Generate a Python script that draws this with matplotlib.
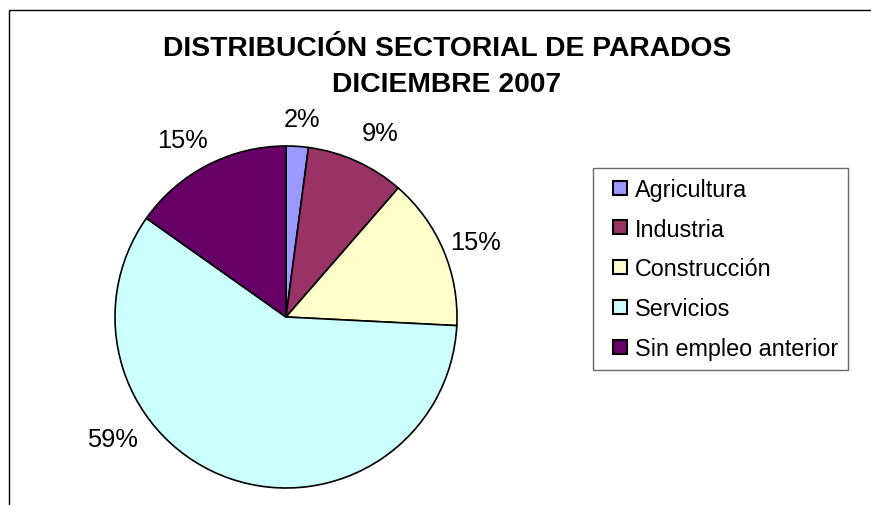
import numpy as np
import matplotlib
matplotlib.use("Agg")
import matplotlib.pyplot as plt
from matplotlib.patches import Rectangle
from matplotlib.legend_handler import HandlerPatch

plt.rcParams['font.family'] = ['Liberation Sans', 'DejaVu Sans']

# data
sectores = ["Agricultura", "Industria", "Construcción", "Servicios", "Sin empleo anterior"]
porcentajes = [2.1, 9.3, 14.4, 59.0, 15.2]
etiquetas = ["2%", "9%", "15%", "59%", "15%"]
colores = ["#9999FF", "#993366", "#FFFFCC", "#CCFFFF", "#660066"]

# label placement (angle clockwise from 12 o'clock, distance in radii)
lab_ang = [4.6, 27, 68.5, 235, 329.7]
lab_dist = [1.16, 1.21, 1.19, 1.24, 1.2]

fig = plt.figure(figsize=(8.71, 5.06), dpi=100)

# chart frame (only left and top edges visible, rest cropped)
fig.add_artist(Rectangle((9 / 871, -0.2), 2.0, 1.2 - 11 / 506, transform=fig.transFigure,
                         fill=False, edgecolor="black", linewidth=1.0))

fig.text(447 / 871, 1 - 36 / 506, "DISTRIBUCIÓN SECTORIAL DE PARADOS\nDICIEMBRE 2007",
         ha="center", va="top", fontsize=20.3, fontweight="bold", linespacing=1.48)

ax = fig.add_axes([(286 - 171) / 871, (506 - 318 - 171) / 506, 342 / 871, 342 / 506])
wedges, textos = ax.pie(porcentajes, colors=colores, startangle=90, counterclock=False,
                        labels=etiquetas,
                        wedgeprops=dict(edgecolor="black", linewidth=1.2),
                        textprops=dict(fontsize=18.3))
ax.set_xlim(-1, 1)
ax.set_ylim(-1, 1)
ax.set_aspect("equal")
ax.axis("off")

for t, a, d in zip(textos, lab_ang, lab_dist):
    th = np.deg2rad(90 - a)
    t.set_position((d * np.cos(th), d * np.sin(th)))
    t.set_ha("center")
    t.set_va("center")


def cuadro(legend, orig_handle, xdescent, ydescent, width, height, fontsize):
    s = 0.6 * fontsize
    return Rectangle((width - s - xdescent, (height - s) / 2 - ydescent), s, s)


leg = fig.legend(wedges, sectores, loc="upper left",
                 bbox_to_anchor=(593 / 871, 1 - 169 / 506), borderaxespad=0,
                 fontsize=16.8, frameon=True, fancybox=False, edgecolor="#444444",
                 handlelength=1.03, handleheight=0.6, handletextpad=0.34,
                 labelspacing=0.72, borderpad=0.42,
                 handler_map={w: HandlerPatch(patch_func=cuadro) for w in wedges})
leg.get_frame().set_linewidth(1.0)
for h in leg.legend_handles:
    h.set_edgecolor("black")
    h.set_linewidth(1.5)

fig.savefig("out.png", dpi=100)
